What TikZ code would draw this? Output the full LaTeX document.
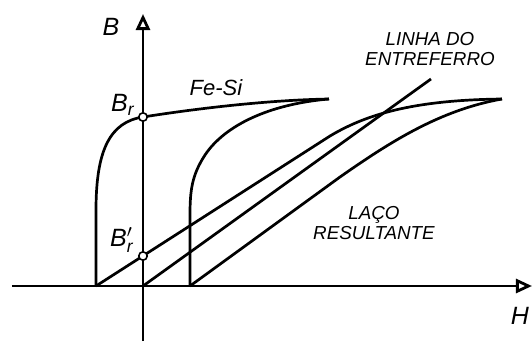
\documentclass[tikz,border=0pt]{standalone}
\usepackage{fontspec}
\setmainfont{Liberation Sans}
\usetikzlibrary{arrows.meta}
\tikzset{
  curve/.style={line width=1.35pt, line join=round},
  axis/.style={line width=1.4pt, -{Triangle[open,length=8pt,width=7pt,fill=white]}},
  lbl/.style={font=\fontsize{9.4}{10.2}\selectfont\itshape, align=center, inner sep=0pt},
  sym/.style={font=\fontsize{12.5}{13}\selectfont\itshape, inner sep=0pt},
  dot/.style={circle, draw, fill=white, line width=0.8pt, minimum size=4.2pt, inner sep=0pt}
}
\begin{document}
\begin{tikzpicture}[x=0.5pt, y=-0.5pt, >=stealth]
  \useasboundingbox (0,0) rectangle (532,344);
  % points of the loops
  \coordinate (O)    at (143,286);
  \coordinate (Hl)   at (96,286);
  \coordinate (Hr)   at (190,286);
  \coordinate (tipA) at (329,99);
  \coordinate (tipB) at (502,99);
  \coordinate (gapE) at (431,79);
  \coordinate (xL)   at (12,286);
  \coordinate (xR)   at (532,286);
  \coordinate (yB)   at (143,341);
  \coordinate (yT)   at (143,14);
  % axes
  \draw[axis] (xL) -- (xR);
  \draw[axis] (yB) -- (yT);
  % Fe-Si loop
  \draw[curve] (Hl) -- (96,210) .. controls (96,150) and (110,122) .. (143,117)
    .. controls (200,108) and (270,100) .. (tipA);
  \draw[curve] (tipA) .. controls (270,104) and (225,125) .. (205,155)
    .. controls (192,175) and (190,190) .. (190,215) -- (Hr);
  % air gap line
  \draw[curve] (O) -- (gapE);
  % resulting loop
  \draw[curve] (Hl) -- (330,136) .. controls (370,112) and (420,100) .. (tipB);
  \draw[curve] (Hr) -- (340,177) .. controls (390,142) and (440,110) .. (tipB);
  % remanence points
  \node[dot] (Br)  at (143,117) {};
  \node[dot] (Br2) at (143,256) {};
  % labels
  \node[sym] (labB)  at (111,27) {B};
  \node[sym] (labH)  at (520,316) {H};
  \node[sym, anchor=east] (labBr)  at (135,105) {B$_{\mathit r}$};
  \node[sym, anchor=east] (labBr2) at (134,240) {B$'_{\mathit r}$};
  \node[sym, font=\fontsize{11}{12}\selectfont\itshape] (labFe) at (216,88) {Fe-Si};
  \node[lbl] (labGap) at (430,49) {LINHA DO\\ENTREFERRO};
  \node[lbl] (labLoop) at (374,223) {LAÇO\\RESULTANTE};
\end{tikzpicture}
\end{document}
